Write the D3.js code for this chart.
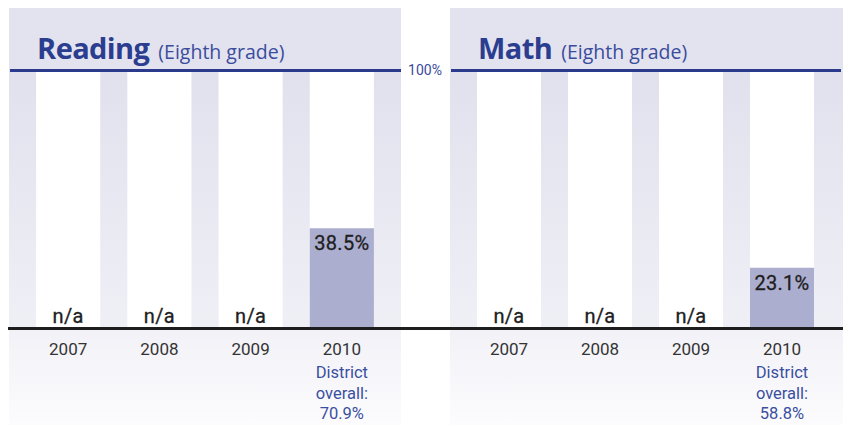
<!DOCTYPE html>
<html><head><meta charset="utf-8">
<script src="https://cdn.jsdelivr.net/npm/d3@7"></script>
<style>body{margin:0;background:#fff}svg{display:block}</style>
</head><body><svg id="c" width="843" height="425"></svg>
<script>
const years = ["2007","2008","2009","2010"];
const readingValues = [null, null, null, 38.5];
const mathValues = [null, null, null, 23.1];
const panelTitles = ["Reading", "Math"];
const panelSubtitles = ["(Eighth grade)", "(Eighth grade)"];
const districtLabels = [["District","overall:","70.9%"],["District","overall:","58.8%"]];
const topTickLabel = "100%";

const svg = d3.select("#c");
const defs = svg.append("defs");
const g1 = defs.append("linearGradient").attr("id","stripe").attr("x1",0).attr("y1",0).attr("x2",0).attr("y2",1);
g1.append("stop").attr("offset","0%").attr("stop-color","#e1e1ee");
g1.append("stop").attr("offset","100%").attr("stop-color","#efeff6");
const g2 = defs.append("linearGradient").attr("id","below").attr("x1",0).attr("y1",0).attr("x2",0).attr("y2",1);
g2.append("stop").attr("offset","0%").attr("stop-color","#f1f1f7");
g2.append("stop").attr("offset","100%").attr("stop-color","#fcfcfe");

const yTop = 70.5, yBase = 327;
const y = d3.scaleLinear().domain([0,100]).range([yBase, yTop]);

const panels = [
  {x0: 9, x1: 401, values: readingValues},
  {x0: 450, x1: 841, values: mathValues}
];

panels.forEach((p, i) => {
  const x = d3.scaleBand().domain(years).range([p.x0, p.x1]).paddingInner(0.297).paddingOuter(0.297);
  const g = svg.append("g");
  const w = (i===1?843:p.x1) - p.x0;
  g.append("rect").attr("x", p.x0).attr("y", 8).attr("width", w).attr("height", yTop - 8).attr("fill", "#e3e3ef");
  g.append("rect").attr("x", p.x0).attr("y", yTop).attr("width", w).attr("height", yBase - yTop).attr("fill", "url(#stripe)");
  g.append("rect").attr("x", p.x0).attr("y", yBase).attr("width", w).attr("height", 425 - yBase).attr("fill", "url(#below)");
  g.selectAll(".col").data(years).join("rect")
    .attr("x", d => x(d)).attr("y", yTop).attr("width", x.bandwidth()).attr("height", yBase - yTop).attr("fill", "#fff");
  const data = years.map((yr, j) => ({yr, v: p.values[j]}));
  g.selectAll(".bar").data(data.filter(d => d.v != null)).join("rect")
    .attr("x", d => x(d.yr)).attr("y", d => y(d.v)).attr("width", x.bandwidth()).attr("height", d => yBase - y(d.v)).attr("fill", "#acaed0");
  g.selectAll(".val").data(data).join("text")
    .attr("x", d => x(d.yr) + x.bandwidth()/2)
    .attr("y", d => d.v == null ? yBase - 4 : y(d.v) + 22)
    .attr("text-anchor", "middle").attr("font-family", "Roboto, sans-serif").attr("font-size", 20)
    .attr("fill", "#1e1e1e").attr("letter-spacing", 0.3).attr("stroke", "#1e1e1e").attr("stroke-width", 0.3)
    .text(d => d.v == null ? "n/a" : d.v.toFixed(1) + "%");
  g.append("line").attr("x1", p.x0 + 1).attr("x2", p.x1).attr("y1", yTop).attr("y2", yTop).attr("stroke", "#2a3a8c").attr("stroke-width", 3);
  const t = g.append("text").attr("x", x(years[0]) + 1).attr("y", 59).attr("font-family", "'Open Sans', sans-serif").attr("fill", "#2b3d8f");
  t.append("tspan").attr("font-weight", "bold").attr("font-size", 29).attr("letter-spacing", -0.6).text(panelTitles[i]);
  t.append("tspan").attr("font-size", 19.5).attr("dx", 9).attr("fill", "#3a4c9c").text(panelSubtitles[i]);
  const ax = d3.axisBottom(x).tickSize(0).tickPadding(0);
  const axg = g.append("g").attr("transform", `translate(0,${yBase})`).call(ax);
  axg.select(".domain").remove();
  axg.selectAll("text").attr("font-family", "Roboto, sans-serif").attr("font-size", 17).attr("fill", "#333").attr("dy", 0).attr("y", 28);
  const dl = g.append("text").attr("text-anchor", "middle").attr("font-family", "Roboto, sans-serif").attr("font-size", 16.5).attr("fill", "#3a4fa0");
  districtLabels[i].forEach((s, k) => {
    dl.append("tspan").attr("x", x(years[3]) + x.bandwidth()/2).attr("y", 378 + k*20.5).text(s);
  });
});

svg.append("line").attr("x1", 8).attr("x2", 843).attr("y1", yBase + 1.5).attr("y2", yBase + 1.5).attr("stroke", "#1e1e1e").attr("stroke-width", 3);
svg.append("text").attr("x", 425).attr("y", 75).attr("text-anchor", "middle").attr("font-family", "Roboto, sans-serif").attr("font-size", 14).attr("fill", "#3b4a9c").text(topTickLabel);
</script></body></html>
